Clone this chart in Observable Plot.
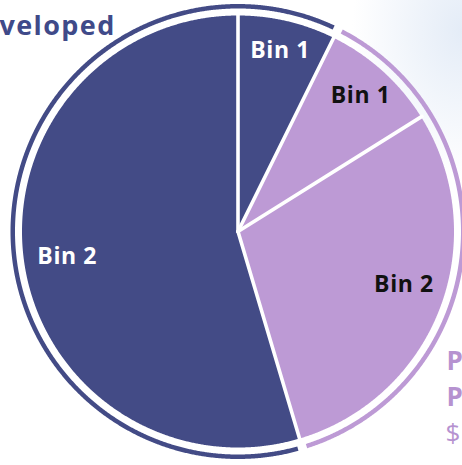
<!DOCTYPE html>
<html>
<head>
<meta charset="utf-8">
<script src="https://cdn.jsdelivr.net/npm/d3@7"></script>
<script src="https://cdn.jsdelivr.net/npm/@observablehq/plot@0.6"></script>
<style>
  html, body { margin: 0; padding: 0; }
  body {
    width: 462px; height: 465px; overflow: hidden;
    background: radial-gradient(ellipse 110px 150px at 462px 30px, #e4ecf7 0%, rgba(255,255,255,0) 100%), #ffffff;
  }
  #chart svg { display: block; }
</style>
</head>
<body>
<div id="chart"></div>
<script>
// ---- data (clockwise from 12 o'clock) ----
const sliceLabels = ["Bin 1", "Bin 1", "Bin 2", "Bin 2"];
const sliceGroups = ["Developed", "P", "P", "Developed"];
const sliceValues = [7.3, 8.8, 29.3, 54.6];
const groupNames  = ["Developed", "P"];
const cornerText  = ["veloped"];
const sideText    = ["P", "P", "$"];

// ---- styling / geometry ----
const DARK = "#434b86", LIGHT = "#bd9ad5";
const W = 462, H = 465, CX = 237.5, CY = 231;
const R = 216, RING_IN = 223, RING_OUT = 227.5, RING_GAP = 4.5;

const total = d3.sum(sliceValues);
let acc = 0;
const slices = sliceValues.map((v, i) => {
  const a0 = acc / total * 2 * Math.PI;
  acc += v;
  const a1 = acc / total * 2 * Math.PI;
  return {i, label: sliceLabels[i], group: sliceGroups[i], value: v, frac: v / total, a0, a1};
});

const pt = (r, a) => ({x: r * Math.sin(a), y: r * Math.cos(a)});
function arcPts(r, a0, a1) {
  const n = Math.max(2, Math.ceil(Math.abs(a1 - a0) / (Math.PI / 720)));
  return d3.range(n + 1).map(k => pt(r, a0 + (a1 - a0) * k / n));
}

// slice polygons
const slicePoly = slices.flatMap(s => [
  {key: "s" + s.i, group: s.group, x: 0, y: 0},
  ...arcPts(R, s.a0, s.a1).map(p => ({key: "s" + s.i, group: s.group, ...p})),
  {key: "s" + s.i, group: s.group, x: 0, y: 0}
]);

// group spans for outer ring (merge consecutive, wrap around)
let spans = [];
slices.forEach(s => {
  const last = spans[spans.length - 1];
  if (last && last.group === s.group) last.a1 = s.a1;
  else spans.push({group: s.group, a0: s.a0, a1: s.a1});
});
if (spans.length > 1 && spans[0].group === spans[spans.length - 1].group) {
  const l = spans.pop();
  spans[0].a0 = l.a0 - 2 * Math.PI;
}
const pad = RING_GAP / ((RING_IN + RING_OUT) / 2);
const ringPoly = spans.flatMap((g, j) => {
  const o = arcPts(RING_OUT, g.a0 + pad, g.a1 - pad);
  const n = arcPts(RING_IN, g.a1 - pad, g.a0 + pad);
  return [...o, ...n, o[0]].map(p => ({key: "r" + j, group: g.group, ...p}));
});

// separators
const seps = slices.map(s => pt(R + 1, s.a0));

// label positions (slice mid-angle)
const labels = slices.map(s => {
  const m = (s.a0 + s.a1) / 2 - (s.frac > 0.2 && s.frac < 0.4 ? 0.05 : 0);
  const r = R * (0.79 + 0.005 / s.frac);
  return {...s, ...pt(r, m)};
});

const sideStyle = {frameAnchor: "bottom-right", textAnchor: "start", fill: "#b692d0", fontSize: 26};

const chart = Plot.plot({
  width: W, height: H, margin: 0,
  x: {domain: [-CX, W - CX], axis: null},
  y: {domain: [-(H - CY), CY], axis: null},
  color: {domain: groupNames, range: [DARK, LIGHT]},
  style: {background: "transparent", fontFamily: "'Open Sans', sans-serif"},
  marks: [
    Plot.line(ringPoly, {x: "x", y: "y", z: "key", fill: "group", stroke: "none"}),
    Plot.line(slicePoly, {x: "x", y: "y", z: "key", fill: "group", stroke: "none"}),
    Plot.link(seps, {x1: d => 0, y1: d => 0, x2: "x", y2: "y", stroke: "white", strokeWidth: 3.6, strokeLinecap: "round"}),
    Plot.text(labels.filter(d => d.group === "Developed"), {x: "x", y: "y", text: "label", fill: "white", fontSize: 23, fontWeight: 700}),
    Plot.text(labels.filter(d => d.group !== "Developed"), {x: "x", y: "y", text: "label", fill: "#111111", fontSize: 23, fontWeight: 700}),
    Plot.text(cornerText, {text: d => d, frameAnchor: "top-left", textAnchor: "start", dx: -1, dy: 15, fill: "#3f4a89", fontSize: 27, fontWeight: 700}),
    Plot.text([sideText[0]], {...sideStyle, text: d => d, dx: -16, dy: -96, fontWeight: 700}),
    Plot.text([sideText[1]], {...sideStyle, text: d => d, dx: -16, dy: -60, fontWeight: 700}),
    Plot.text([sideText[2]], {...sideStyle, text: d => d, dx: -17, dy: -24, fontWeight: 400})
  ]
});
document.getElementById("chart").appendChild(chart);
d3.select(chart).selectAll("text").filter(function() { return /Bin|veloped/.test(this.textContent); })
  .attr("letter-spacing", function() { return /veloped/.test(this.textContent) ? "1.4px" : "0.6px"; });
</script>
</body>
</html>
